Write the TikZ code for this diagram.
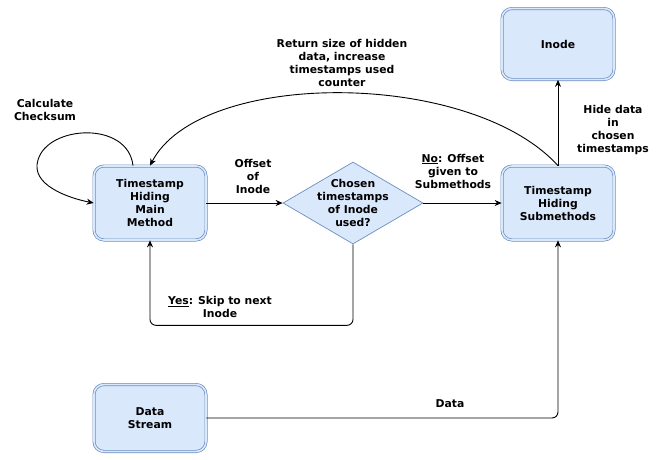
\documentclass[tikz,border=0pt]{standalone}
\usepackage{fontspec}
\setmainfont{DejaVu Sans}
\usetikzlibrary{arrows.meta,shapes.geometric}

\definecolor{boxfill}{HTML}{DAE8FC}
\definecolor{boxline}{HTML}{6C8EBF}

\begin{document}
\begin{tikzpicture}[x=1pt, y=-1pt, every node/.style={font=\fontsize{10.8}{13}\selectfont\bfseries, align=center},
	>={Stealth[length=7pt, width=6pt]},
	block/.style={draw=boxline, double=boxfill, double distance=1.6pt, line width=0.7pt, fill=boxfill, rounded corners=10pt, minimum width=112pt, minimum height=74pt, inner sep=2pt},
	decision/.style={diamond, draw=boxline, fill=boxfill, line width=0.7pt, minimum width=140pt, minimum height=82pt, inner sep=0pt},
	flow/.style={->, line width=0.9pt}]
	\useasboundingbox (0,0) rectangle (662,459);
	\node[block] (main) at (150,203) {Timestamp\\Hiding\\Main\\Method};
	\node[decision] (check) at (353,203) {};
	\node (checktxt) at (check) {Chosen\\timestamps\\of Inode\\used?};
	\node[block] (sub) at (558,203) {Timestamp\\Hiding\\Submethods};
	\node[block, minimum height=71pt] (inode) at (558,44) {Inode};
	\node[block, minimum height=67pt] (stream) at (150,418) {Data\\Stream};
	% edges
	\draw[flow] ([xshift=-17pt]main.north) .. controls +(-5,-45) and +(10,-35) .. (38,160) .. controls +(-8,25) and +(-25,-5) .. (main.west);
	\draw[flow] (main) -- (check);
	\draw[flow] (check) -- (sub);
	\draw[flow, rounded corners=6pt] (check.south) -- ++(0,81) -| (main.south);
	\draw[flow] (sub.north) .. controls (470,69) and (200,69) .. (main.north);
	\draw[flow] (sub) -- (inode);
	\draw[flow, rounded corners=6pt] (stream.east) -| (sub.south);
	% labels
	\node (lchk) at (45,110) {Calculate\\Checksum};
	\node (loff) at (253,176) {Offset\\of\\Inode};
	\node (lno) at (453,171) {\underline{No}: Offset\\given to\\Submethods};
	\node (lyes) at (220,307) {\underline{Yes}: Skip to next\\Inode};
	\node (lret) at (342,63) {Return size of hidden\\data, increase\\timestamps used\\counter};
	\node (lhide) at (613,130) {Hide data\\in\\chosen\\timestamps};
	\node (ldata) at (450,404) {Data};
\end{tikzpicture}
\end{document}
